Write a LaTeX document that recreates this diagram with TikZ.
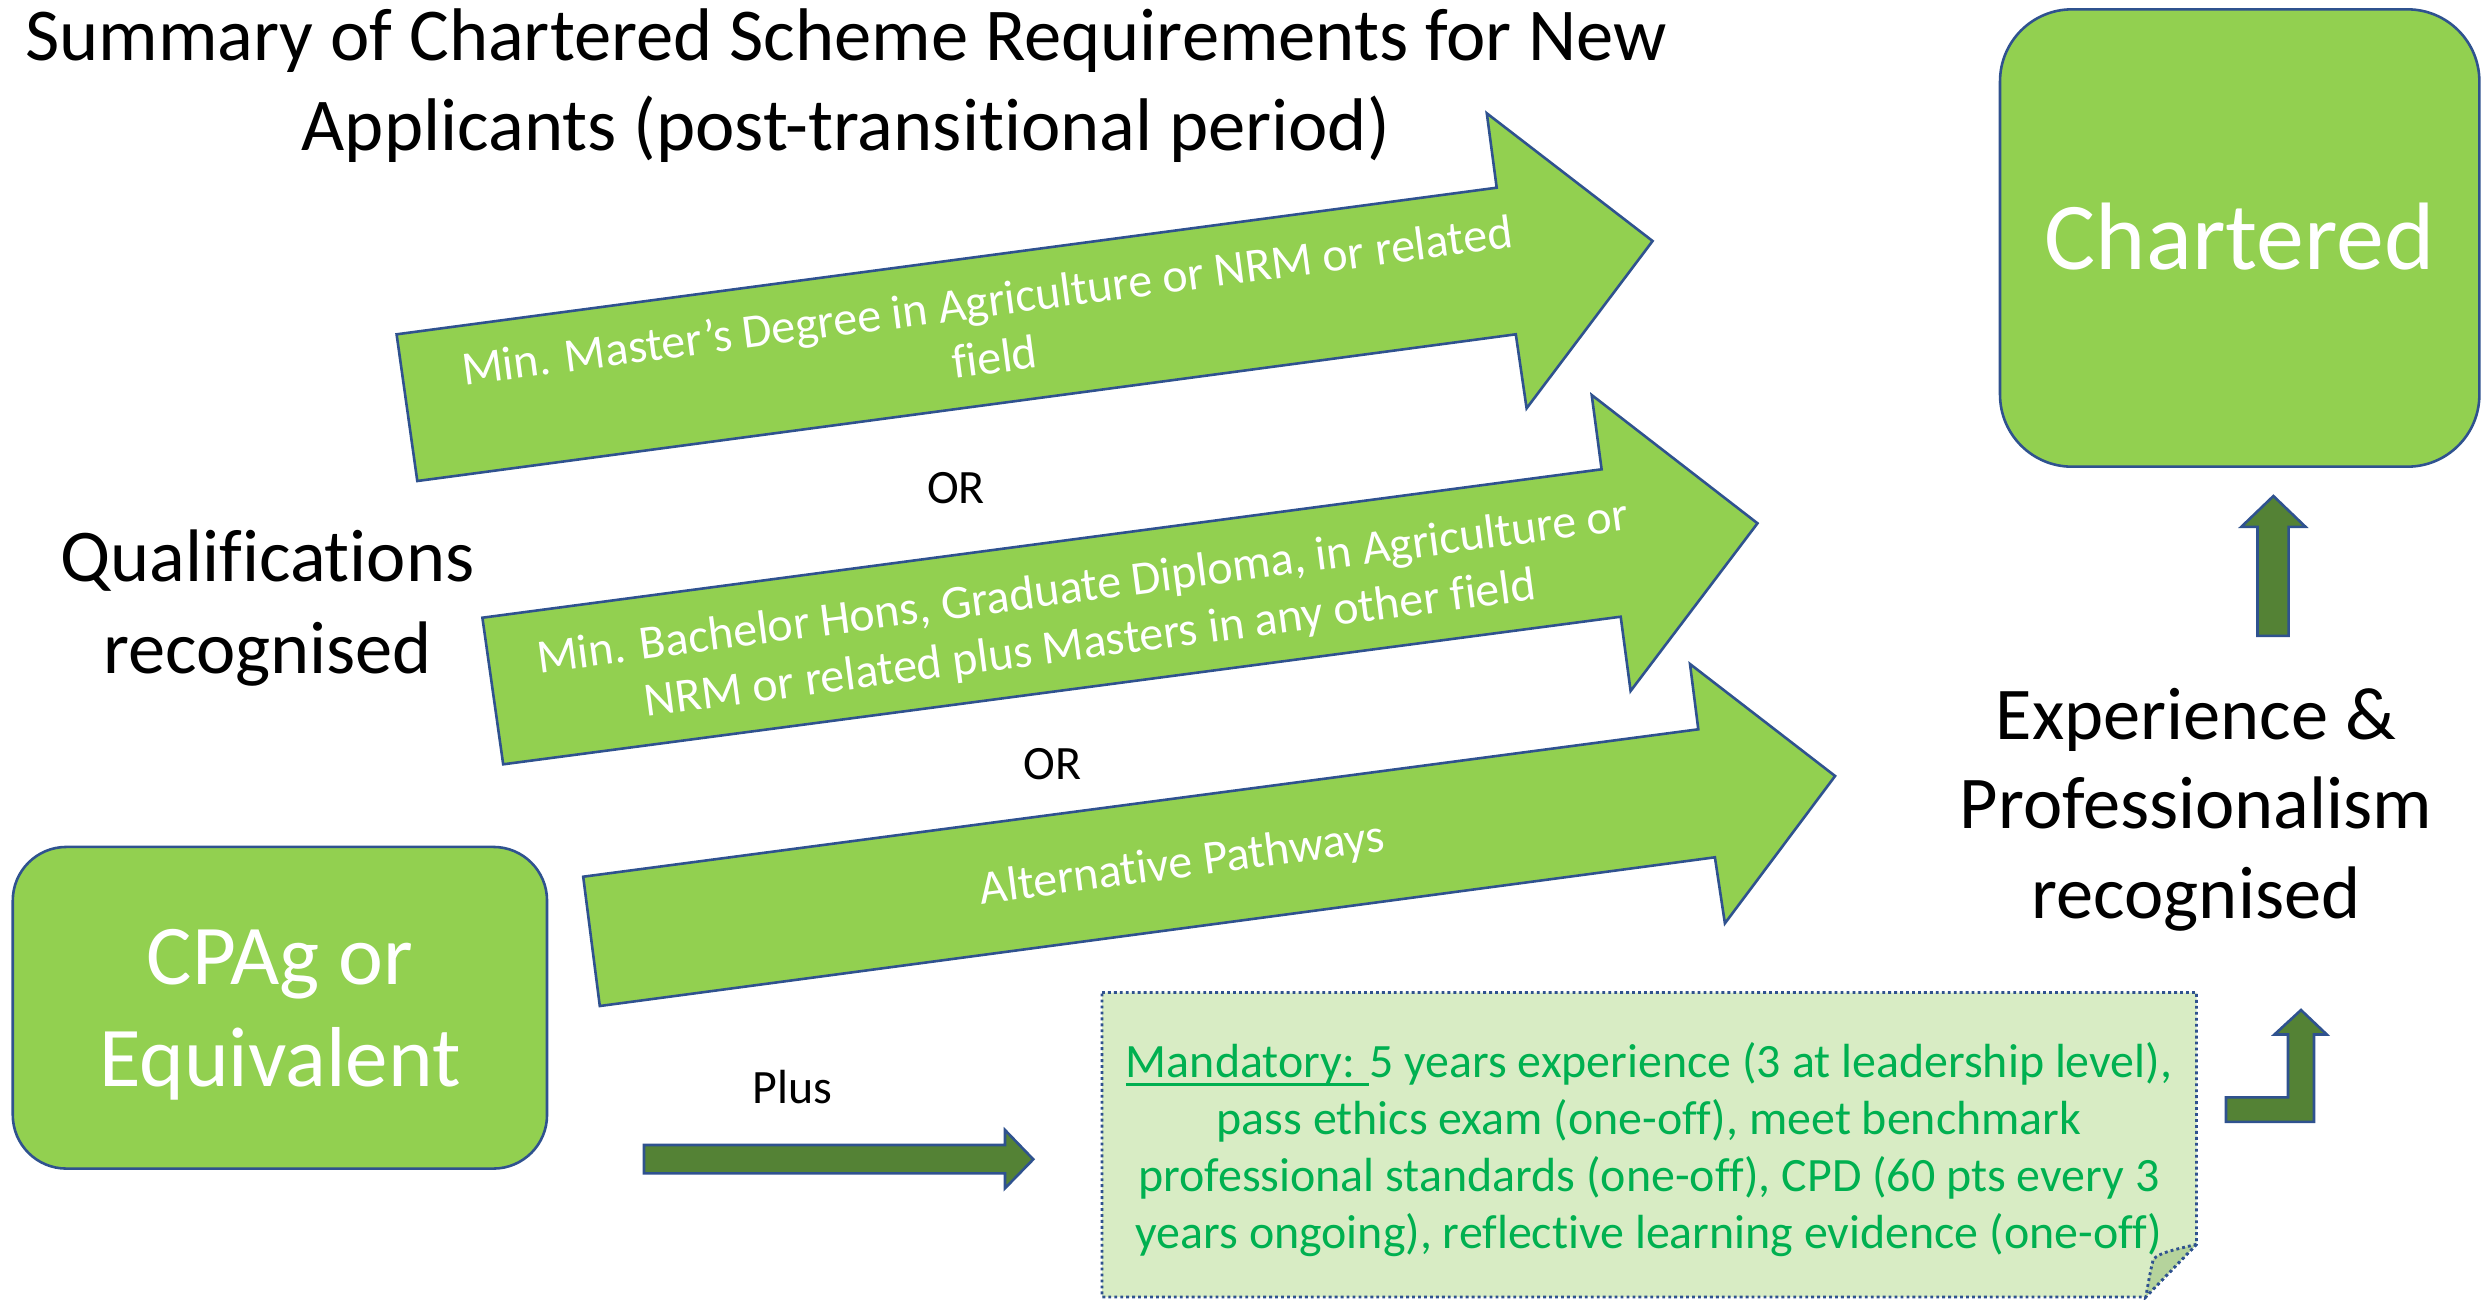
\documentclass[tikz,border=0pt]{standalone}
\usepackage{fontspec}
\setmainfont{Carlito}[Ligatures=NoCommon]
\definecolor{lgreen}{HTML}{92D050}
\definecolor{bblue}{HTML}{2F528F}
\definecolor{dgreen}{HTML}{548235}
\definecolor{pale}{HTML}{D8ECC4}
\definecolor{foldc}{HTML}{B5D39C}
\definecolor{tgreen}{HTML}{00B050}
\newsavebox\mandbox
\newcommand\mandul[1]{\sbox\mandbox{#1}\rlap{\raisebox{-3.2bp}{\rule{\wd\mandbox}{1.3bp}}}\usebox\mandbox}
\begin{document}
\begin{tikzpicture}[x=0.38616bp, y=-0.38616bp,
  blockarrow/.style={fill=lgreen, draw=bblue, line width=1bp, line join=miter},
  darkarrow/.style={fill=dgreen, draw=bblue, line width=1bp, line join=miter},
  rbox/.style={fill=lgreen, draw=bblue, line width=1bp, inner sep=0pt},
  dotbox/.style={draw=bblue, line width=1.1bp, dash pattern=on 1.1bp off 1.2bp},
  bigtxt/.style={anchor=base, inner sep=0pt, align=center},
  arrtxt/.style={anchor=base, inner sep=0pt, align=center, text=white, rotate=7.5,
    font=\fontsize{18.5bp}{22bp}\selectfont},
  smalltxt/.style={anchor=base, inner sep=0pt, font=\fontsize{18.5bp}{22bp}\selectfont},
  mtxt/.style={anchor=base, inner sep=0pt, align=center, text=tgreen,
    font=\fontsize{18.5bp}{21.9bp}\selectfont},
]
\useasboundingbox (0,0) rectangle (2486,1299);

% title (node placed at the baseline of its last line)
\node[bigtxt, font=\fontsize{28.8bp}{34.75bp}\selectfont] (title) at (846,150)
  {Summary of Chartered Scheme Requirements for New\\Applicants (post-transitional period)};

% block arrows
\draw[blockarrow] (396.6,334.3) -- (1496.7,187.7) -- (1486.8,113.3) -- (1652.6,241)
  -- (1526.6,408.3) -- (1515.8,334.3) -- (417.3,481) -- cycle;
\draw[blockarrow] (482.4,617.7) -- (1601.6,469.3) -- (1591.7,395) -- (1757.5,523.3)
  -- (1630.6,691) -- (1620.7,616.7) -- (503.2,764.3) -- cycle;
\draw[blockarrow] (583.2,876.7) -- (1698.3,729.3) -- (1690,664) -- (1835.1,776)
  -- (1724.9,923.3) -- (1714.9,857.3) -- (599.8,1006) -- cycle;

\node[arrtxt] (a1) at (996.5,373.1) {Min. Master’s Degree in Agriculture or NRM or related\\field};
\node[arrtxt] (a2) at (1092.2,658) {Min. Bachelor Hons, Graduate Diploma, in Agriculture or\\NRM or related plus Masters in any other field};
\node[arrtxt] (a3) at (1184,877.5) {Alternative Pathways};

\node[smalltxt] (or1) at (956,503.3) {OR};
\node[smalltxt] (or2) at (1052.3,779.3) {OR};
\node[smalltxt] (plus) at (792.7,1103.3) {Plus};

% left label
\node[bigtxt, font=\fontsize{28.75bp}{35.4bp}\selectfont] (qual) at (267.5,673.3)
  {Qualifications\\recognised};

% right label
\node[bigtxt, font=\fontsize{28.75bp}{34.4bp}\selectfont] (exper) at (2196,918)
  {Experience \&\\Professionalism\\recognised};

% Chartered box
\node[rbox, minimum width=185.1bp, minimum height=176.6bp, rounded corners=27.8bp] (charter) at (2239.7,238) {};
\node[anchor=base, inner sep=0pt, text=white, font=\fontsize{37bp}{44bp}\selectfont] (chtxt) at (2239.7,269.8) {Chartered};

% CPAg box
\node[rbox, minimum width=206.3bp, minimum height=124.2bp, rounded corners=20.7bp] (cpag) at (279.9,1007.75) {};
\node[bigtxt, text=white, font=\fontsize{32.85bp}{39.3bp}\selectfont] (cptxt) at (280,1086.7) {CPAg or\\Equivalent};

% dark arrows
\draw[darkarrow] (644,1145) -- (1005,1145) -- (1005,1130) -- (1033.3,1159.3)
  -- (1005,1188.3) -- (1005,1173.3) -- (644,1173.3) -- cycle;
\draw[darkarrow] (2257.5,635.9) -- (2257.5,526.8) -- (2241.3,526.8) -- (2273.4,496)
  -- (2305.5,526.8) -- (2288.6,526.8) -- (2288.6,635.9) -- cycle;
\draw[darkarrow] (2226,1097.3) -- (2288,1097.3) -- (2288,1034.5) -- (2274.4,1034.5)
  -- (2301,1010) -- (2326.8,1034.5) -- (2314,1034.5) -- (2314,1121.8) -- (2226,1121.8) -- cycle;

% mandatory box
\draw[dotbox, fill=pale] (1102,992.5) -- (2196.5,992.5) -- (2196.5,1244.3) -- (2145.7,1297)
  -- (1102,1297) -- cycle;
\draw[dotbox, fill=foldc] (2196.5,1244.3) .. controls (2178,1249) and (2160,1252) .. (2153.3,1259.3)
  .. controls (2150,1272) and (2148,1285) .. (2145.7,1297) -- cycle;

\node[mtxt] (mand) at (1649,1248) {\mandul{Mandatory: }5 years experience (3 at leadership level),\\
  pass ethics exam (one-off), meet benchmark\\
  professional standards (one-off), CPD (60 pts every 3\\
  years ongoing), reflective learning evidence (one-off)};
\end{tikzpicture}
\end{document}
